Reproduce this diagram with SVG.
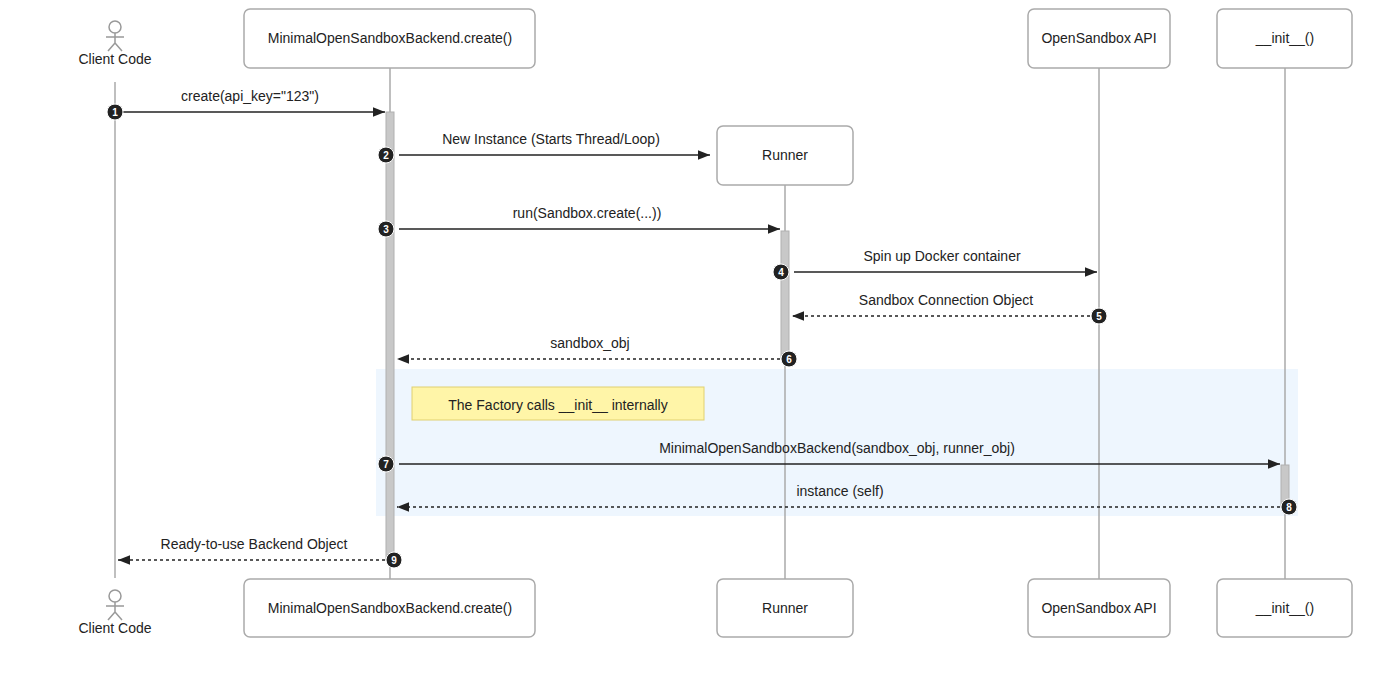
<svg xmlns="http://www.w3.org/2000/svg" width="1400" height="675" viewBox="0 0 1400 675">
<defs>
<style>
text{font-family:"Liberation Sans",Arial,sans-serif;font-size:14px;fill:#222}
.box{fill:#fff;stroke:#aaa;stroke-width:1.5}
.life{stroke:#aaa;stroke-width:1.5}
.act{fill:#c8c8c8;stroke:#b0b0b0}
.msg{stroke:#222;stroke-width:1.5;fill:none;marker-end:url(#ah)}
.ret{stroke:#222;stroke-width:1.5;fill:none;stroke-dasharray:3,3;marker-end:url(#ah)}
.bd{fill:#222;stroke:#fff;stroke-width:1}
.bt{fill:#fff;font-size:10px;font-weight:bold}
.actor{fill:none;stroke:#999;stroke-width:1.5}
</style>
<marker id="ah" viewBox="0 0 10 10" refX="10" refY="5" markerWidth="8" markerHeight="8" orient="auto"><path d="M0,1 L10,5 L0,9 z" fill="#222"/></marker>
</defs>
<rect width="1400" height="675" fill="#fff"/>
<rect x="376" y="369" width="922" height="147" fill="#eef6fe"/>
<g id="lifelines">
<line class="life" x1="115" y1="82" x2="115" y2="578"/>
<line class="life" x1="390" y1="68" x2="390" y2="579"/>
<line class="life" x1="785" y1="185" x2="785" y2="579"/>
<line class="life" x1="1099" y1="68" x2="1099" y2="579"/>
<line class="life" x1="1285" y1="68" x2="1285" y2="579"/>
<rect class="act" x="386" y="112" width="8" height="448"/>
<rect class="act" x="781" y="231" width="8" height="127"/>
<rect class="act" x="1281" y="465" width="8" height="42"/>
</g>
<g id="client-top"><circle class="actor" cx="115" cy="27" r="6"/><path class="actor" d="M115,33 V43 M106,37 H124 M115,43 L108,51 M115,43 L122,51"/><text x="115" y="64" text-anchor="middle">Client Code</text></g>
<g id="client-bottom"><circle class="actor" cx="115" cy="596" r="6"/><path class="actor" d="M115,602 V612 M106,606 H124 M115,612 L108,620 M115,612 L122,620"/><text x="115" y="633" text-anchor="middle">Client Code</text></g>
<g id="backend-top"><rect class="box" x="244" y="9" width="291" height="59" rx="6"/><text x="390" y="43" text-anchor="middle">MinimalOpenSandboxBackend.create()</text></g>
<g id="backend-bottom"><rect class="box" x="244" y="579" width="291" height="58" rx="6"/><text x="390" y="613" text-anchor="middle">MinimalOpenSandboxBackend.create()</text></g>
<g id="runner-top"><rect class="box" x="717" y="126" width="136" height="59" rx="6"/><text x="785" y="160" text-anchor="middle">Runner</text></g>
<g id="runner-bottom"><rect class="box" x="717" y="579" width="136" height="58" rx="6"/><text x="785" y="613" text-anchor="middle">Runner</text></g>
<g id="api-top"><rect class="box" x="1028" y="9" width="142" height="59" rx="6"/><text x="1099" y="43" text-anchor="middle">OpenSandbox API</text></g>
<g id="api-bottom"><rect class="box" x="1028" y="579" width="142" height="58" rx="6"/><text x="1099" y="613" text-anchor="middle">OpenSandbox API</text></g>
<g id="init-top"><rect class="box" x="1217" y="9" width="135" height="59" rx="6"/><text x="1285" y="43" text-anchor="middle">__init__()</text></g>
<g id="init-bottom"><rect class="box" x="1217" y="579" width="135" height="58" rx="6"/><text x="1285" y="613" text-anchor="middle">__init__()</text></g>
<g id="note"><rect x="412" y="387" width="292" height="33" fill="#fff5a8" stroke="#e0d070"/><text x="558" y="410" text-anchor="middle">The Factory calls __init__ internally</text></g>
<g id="connectors">
<line class="msg" x1="123" y1="112" x2="385" y2="112"/><text x="250" y="101" text-anchor="middle">create(api_key="123")</text>
<line class="msg" x1="399" y1="155" x2="710" y2="155"/><text x="551" y="144" text-anchor="middle">New Instance (Starts Thread/Loop)</text>
<line class="msg" x1="399" y1="229" x2="780" y2="229"/><text x="587" y="218" text-anchor="middle">run(Sandbox.create(...))</text>
<line class="msg" x1="794" y1="272" x2="1097" y2="272"/><text x="942" y="261" text-anchor="middle">Spin up Docker container</text>
<line class="ret" x1="1090" y1="316" x2="792" y2="316"/><text x="946" y="305" text-anchor="middle">Sandbox Connection Object</text>
<line class="ret" x1="780" y1="359" x2="397" y2="359"/><text x="590" y="348" text-anchor="middle">sandbox_obj</text>
<line class="msg" x1="399" y1="464" x2="1280" y2="464"/><text x="837" y="453" text-anchor="middle">MinimalOpenSandboxBackend(sandbox_obj, runner_obj)</text>
<line class="ret" x1="1280" y1="507" x2="397" y2="507"/><text x="840" y="496" text-anchor="middle">instance (self)</text>
<line class="ret" x1="385" y1="560" x2="118" y2="560"/><text x="254" y="549" text-anchor="middle">Ready-to-use Backend Object</text>
</g>
<g id="badges">
<circle class="bd" cx="115" cy="112" r="8"/><text class="bt" x="115" y="116" text-anchor="middle">1</text>
<circle class="bd" cx="386" cy="155" r="8"/><text class="bt" x="386" y="159" text-anchor="middle">2</text>
<circle class="bd" cx="386" cy="229" r="8"/><text class="bt" x="386" y="233" text-anchor="middle">3</text>
<circle class="bd" cx="781" cy="272" r="8"/><text class="bt" x="781" y="276" text-anchor="middle">4</text>
<circle class="bd" cx="1099" cy="316" r="8"/><text class="bt" x="1099" y="320" text-anchor="middle">5</text>
<circle class="bd" cx="789" cy="359" r="8"/><text class="bt" x="789" y="363" text-anchor="middle">6</text>
<circle class="bd" cx="386" cy="464" r="8"/><text class="bt" x="386" y="468" text-anchor="middle">7</text>
<circle class="bd" cx="1289" cy="507" r="8"/><text class="bt" x="1289" y="511" text-anchor="middle">8</text>
<circle class="bd" cx="394" cy="560" r="8"/><text class="bt" x="394" y="564" text-anchor="middle">9</text>
</g>
</svg>
